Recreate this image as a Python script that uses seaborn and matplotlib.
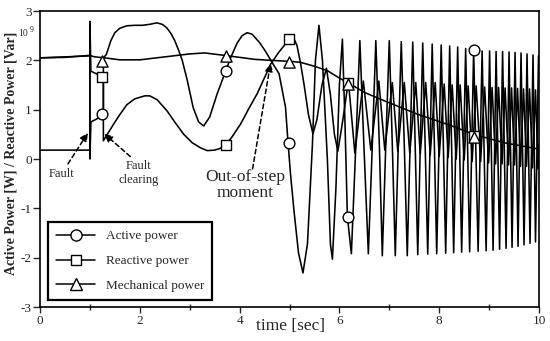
import matplotlib
matplotlib.use("Agg")
import matplotlib.pyplot as plt
import seaborn as sns
from matplotlib.lines import Line2D

# ---------------- data ----------------
active_t = [0.0, 0.98, 1.0, 1.0, 1.02, 1.15, 1.27, 1.27, 1.33, 1.42, 1.5, 1.6, 1.74, 1.9,
            2.05, 2.2, 2.34, 2.45, 2.54, 2.62, 2.7, 2.78, 2.85, 2.95, 3.07, 3.18, 3.28, 3.4,
            3.55, 3.72, 3.82, 3.95, 4.05, 4.15, 4.25, 4.4, 4.52, 4.65, 4.79, 4.92, 4.97,
            5.02, 5.09, 5.18, 5.27, 5.36, 5.46, 5.52, 5.59, 5.66, 5.76, 5.82, 5.86, 5.93,
            6.0, 6.06, 6.11, 6.16, 6.24, 6.33, 6.41, 6.49, 6.58, 6.66, 6.73, 6.80, 6.86,
            6.93, 7.00, 7.06, 7.12, 7.18, 7.24, 7.30, 7.36, 7.47, 7.57, 7.67, 7.77, 7.86,
            7.95, 8.04, 8.13, 8.21, 8.29, 8.37, 8.45, 8.53, 8.61, 8.69, 8.78, 8.86, 8.94,
            9.01, 9.08, 9.14, 9.21, 9.27, 9.34, 9.40, 9.46, 9.52, 9.58, 9.64, 9.70, 9.76,
            9.82, 9.88, 9.93, 9.99]
active_p = [2.05, 2.09, 2.09, 0.0, 0.75, 0.82, 0.9, 2.05, 2.12, 2.4, 2.56, 2.65, 2.70, 2.71,
            2.71, 2.73, 2.76, 2.73, 2.66, 2.55, 2.4, 2.2, 2.0, 1.6, 1.04, 0.75, 0.67, 0.85,
            1.32, 1.78, 2.05, 2.35, 2.5, 2.56, 2.53, 2.36, 2.18, 1.96, 1.73, 1.05, 0.34,
            -0.3, -1.05, -1.9, -2.31, -1.72, 0.31, 2.0, 2.71, 2.0, -0.03, -1.72, -2.03, -0.6,
            1.5, 2.43, 0.8, -1.17, -1.92, 0.3, 2.40, 0.3, -1.92, 0.3, 2.40, 0.3, -1.96,
            0.3, 2.40, 0.3, -1.96, 0.3, 2.38, 0.3, -1.96, 2.37, -1.94, 2.35, -1.93, 2.33,
            -1.92, 2.31, -1.91, 2.29, -1.90, 2.27, -1.89, 2.24, -1.88, 2.20, -1.87, 2.19, -1.86,
            2.19, -1.85, 2.18, -1.83, 2.18, -1.81, 2.17, -1.79, 2.16, -1.77, 2.15, -1.74, 2.13,
            -1.71, 2.11, -1.68, 2.09]

reactive_t = [0.0, 1.0, 1.0, 1.02, 1.27, 1.27, 1.35, 1.47, 1.6, 1.74, 1.9, 2.1, 2.2, 2.35,
              2.55, 2.7, 2.88, 3.05, 3.21, 3.35, 3.5, 3.6, 3.72, 3.85, 4.02, 4.2, 4.35, 4.5,
              4.62, 4.79, 4.95, 5.0, 5.08, 5.15, 5.22, 5.29, 5.38, 5.47, 5.55, 5.65, 5.74,
              5.82, 5.9, 5.97, 6.07, 6.18, 6.31, 6.48, 6.63, 6.79, 6.91, 7.06, 7.17, 7.30,
              7.41, 7.53, 7.62, 7.73, 7.82, 7.92, 8.00, 8.10, 8.18, 8.26, 8.34, 8.42, 8.50,
              8.58, 8.66, 8.74, 8.83, 8.91, 8.99, 9.06, 9.13, 9.19, 9.26, 9.32, 9.39, 9.45,
              9.51, 9.57, 9.63, 9.69, 9.75, 9.81, 9.87, 9.93, 9.98, 10.0]
reactive_q = [0.18, 0.18, 2.79, 1.78, 1.66, 0.37, 0.5, 0.7, 0.9, 1.1, 1.22, 1.28, 1.28, 1.2,
              0.97, 0.75, 0.5, 0.33, 0.23, 0.17, 0.18, 0.21, 0.28, 0.45, 0.71, 1.05, 1.32, 1.65,
              1.92, 2.17, 2.37, 2.43, 2.46, 2.3, 1.95, 1.52, 0.9, 0.51, 0.8, 1.5, 1.84,
              1.3, 0.5, 0.16, 0.8, 1.58, 0.12, 1.58, 0.18, 1.58, 0.18, 1.55, 0.15, 1.55,
              0.12, 1.55, 0.10, 1.55, 0.08, 1.55, 0.05, 1.52, 0.03, 1.50, 0.0, 1.50, -0.02,
              1.48, -0.05, 1.48, -0.05, 1.46, -0.08, 1.45, -0.10, 1.45, -0.10, 1.44, -0.12, 1.44,
              -0.12, 1.43, -0.15, 1.42, -0.15, 1.42, -0.18, 1.40, -0.20, 0.3]

mech_t = [0.0, 0.5, 0.99, 1.1, 1.3, 1.6, 2.0, 2.5, 3.0, 3.3, 3.7, 4.0, 4.3, 4.62, 5.0, 5.22,
          5.5, 5.76, 6.0, 6.2, 6.5, 6.9, 7.56, 8.23, 8.69, 9.3, 10.0]
mech_p = [2.05, 2.06, 2.1, 2.07, 2.05, 2.01, 2.01, 2.07, 2.13, 2.15, 2.1, 2.06, 2.02, 2.0,
          1.98, 1.96, 1.88, 1.79, 1.64, 1.53, 1.35, 1.18, 0.91, 0.68, 0.5, 0.33, 0.2]

marker_t = [1.24, 3.72, 4.98, 6.18, 8.69]
active_mk = [0.91, 1.78, 0.33, -1.17, 2.2]
reactive_mk = [1.66, 0.28, 2.43, 1.55, 0.47]
mech_mk = [1.99, 2.09, 1.97, 1.53, 0.45]

legend_labels = ["Active power", "Reactive power", "Mechanical power"]
x_ticks = [0, 2, 4, 6, 8, 10]
x_minor = [1, 3, 5, 7, 9]
y_ticks = [-3, -2, -1, 0, 1, 2, 3]

# ---------------- drawing ----------------
sns.set_style("ticks")
plt.rcParams['font.family'] = ['Liberation Serif', 'DejaVu Serif']
plt.rcParams['axes.unicode_minus'] = False

fig = plt.figure(figsize=(5.5, 3.41), dpi=100)
ax = fig.add_axes([40 / 550, 34 / 341, 499 / 550, 296 / 341])

for tt, vv in [(active_t, active_p), (reactive_t, reactive_q), (mech_t, mech_p)]:
    sns.lineplot(x=tt, y=vv, sort=False, estimator=None, color='black', lw=1.15,
                 ax=ax, legend=False)

for mk, vals, s in [('o', active_mk, 60), ('s', reactive_mk, 55), ('^', mech_mk, 65)]:
    sns.scatterplot(x=marker_t, y=vals, marker=mk, s=s, color='white', edgecolor='black',
                    linewidth=1.0, zorder=5, ax=ax, legend=False)

ax.set_xlim(0, 10)
ax.set_ylim(-3, 3)
ax.set_xticks(x_ticks)
ax.set_xticks(x_minor, minor=True)
ax.set_yticks(y_ticks)
ax.set_xticklabels([str(v) for v in x_ticks])
ax.set_yticklabels([str(v) for v in y_ticks])
ax.tick_params(axis='x', which='major', direction='out', length=4, width=1, labelsize=9.5, pad=2)
ax.tick_params(axis='x', which='minor', direction='inout', length=5, width=1)
ax.tick_params(axis='y', direction='out', length=5, width=1, labelsize=9.5, pad=1)
for sp in ax.spines.values():
    sp.set_linewidth(1.2)
    sp.set_color('black')

ax.set_xlabel("time [sec]", fontsize=12.5)
ax.xaxis.set_label_coords(0.503, -0.037)
ax.set_ylabel("Active Power [W] / Reactive Power [Var]", fontsize=10, fontweight='bold')
ax.yaxis.set_label_coords(-0.046, 0.519)

fig.text(18 / 550, 1 - 34 / 341, "10", fontsize=7, ha='left', va='center')
fig.text(30 / 550, 1 - 30 / 341, "9", fontsize=5.5, ha='left', va='center')

arrow = dict(arrowstyle='-|>', linestyle=(0, (3, 2)), color='black', lw=1.1,
             mutation_scale=12, shrinkA=0, shrinkB=0)
ax.annotate("", xy=(0.96, 0.53), xytext=(0.56, -0.1), arrowprops=arrow)
ax.text(0.43, -0.30, "Fault", fontsize=9, ha='center', va='center')
ax.annotate("", xy=(1.29, 0.51), xytext=(1.81, 0.05), arrowprops=arrow)
ax.text(1.97, -0.28, "Fault\nclearing", fontsize=9, ha='center', va='center', linespacing=1.25)
ax.annotate("", xy=(4.62, 1.94), xytext=(4.26, -0.2), arrowprops=arrow)
ax.text(4.12, -0.52, "Out-of-step\nmoment", fontsize=12.5, ha='center', va='center',
        linespacing=1.0)

handles = [Line2D([0], [0], color='black', lw=1.1, marker=m, markersize=ms,
                  markerfacecolor='white', markeredgecolor='black')
           for m, ms in [('o', 8), ('s', 7.5), ('^', 8)]]
leg = ax.legend(handles, legend_labels, loc='lower left', bbox_to_anchor=(0.016, 0.024),
                borderaxespad=0, fontsize=9.5, handlelength=3.0, handletextpad=0.76,
                borderpad=0.6, labelspacing=0.95, fancybox=False, frameon=True)
leg.get_frame().set_edgecolor('black')
leg.get_frame().set_linewidth(1.6)
leg.get_frame().set_facecolor('white')
leg.get_frame().set_alpha(1)

fig.savefig("out.png", dpi=100)
